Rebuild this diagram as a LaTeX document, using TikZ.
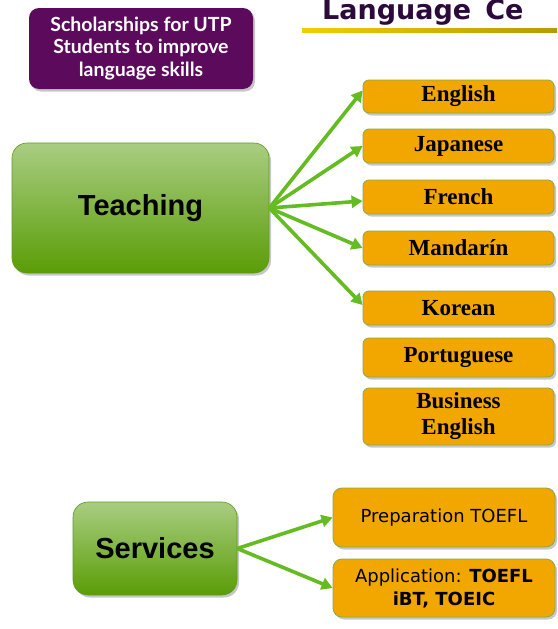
\documentclass[tikz,border=0pt]{standalone}
\usepackage{fontspec}
\setmainfont{Liberation Serif}
\setsansfont{Liberation Sans}
\newfontfamily\titlefont{DejaVu Sans}
\newfontfamily\notefont{Lato}
\newfontfamily\svcfont{DejaVu Sans}
\usetikzlibrary{arrows, arrows.meta}
\usetikzlibrary{shadows}

\definecolor{utppurple}{HTML}{5C0A5C}
\definecolor{titlepurple}{HTML}{2C0A3C}
\definecolor{titlegold}{HTML}{EED000}
\definecolor{titlebrown}{HTML}{9C7006}
\definecolor{langorange}{HTML}{F2A700}
\definecolor{langedge}{HTML}{86AC3E}
\definecolor{topictop}{HTML}{A9CD82}
\definecolor{topicbot}{HTML}{5A9D06}
\definecolor{topicedge}{HTML}{5E9A1C}
\definecolor{branchgreen}{HTML}{64BC22}

\tikzset{
  softshadow/.style={drop shadow={shadow xshift=2pt, shadow yshift=-2.5pt, opacity=0.22, fill=black}},
  notebox/.style={fill=utppurple, rounded corners=10pt, text=white, align=center,
    minimum width=224pt, minimum height=81pt, inner sep=0pt,
    font=\notefont\bfseries\fontsize{19.5}{22.5}\selectfont, softshadow},
  topic/.style={draw=topicedge, line width=0.6pt, rounded corners=15pt,
    top color=topictop, bottom color=topicbot, inner sep=0pt,
    font=\sffamily\bfseries\fontsize{29}{33}\selectfont, softshadow},
  langbox/.style={draw=langedge, line width=0.8pt, fill=langorange, rounded corners=6pt,
    minimum width=191pt, inner sep=0pt, align=center,
    font=\bfseries\fontsize{23}{26}\selectfont, softshadow},
  svcbox/.style={draw=langedge, line width=0.8pt, fill=langorange, rounded corners=9pt,
    minimum width=222pt, inner sep=0pt, align=center,
    font=\svcfont\fontsize{18}{23}\selectfont, softshadow},
  branch/.style={draw=branchgreen, line width=3.6pt, -{Triangle[length=11pt, width=12pt]}}
}

\begin{document}
\begin{tikzpicture}[x=1pt, y=-1pt]
  \useasboundingbox[fill=white] (0,0) rectangle (557,629);

  \node[notebox] (grant) at (141,48.5) {Scholarships for UTP\\Students to improve\\language skills};
  \node[anchor=base west, inner sep=0pt, text=titlepurple,
    font=\titlefont\bfseries\fontsize{27}{30}\selectfont] (title) at (322,19.5) {Language\hspace{14pt}Ce};
  \shade[left color=titlegold, middle color=titlebrown, right color=titlegold!75!black]
    (302,28) rectangle (557,32);

  \node[topic, minimum width=257pt, minimum height=130pt] (teaching) at (140.5,208) {Teaching};

  \node[langbox, minimum height=33pt] (english) at (458.5,96.5) {English};
  \node[langbox, minimum height=34pt] (japanese) at (458.5,146) {Japanese};
  \node[langbox, minimum height=34pt] (french) at (458.5,197) {French};
  \node[langbox, minimum height=34pt] (mandarin) at (458.5,248) {Mandarín};
  \node[langbox, minimum height=34pt] (korean) at (458.5,308) {Korean};
  \node[langbox, minimum height=39pt] (portuguese) at (458.5,357.5) {Portuguese};
  \node[langbox, minimum height=57pt] (business) at (458.5,416.5) {Business\\English};

  \draw[branch] (teaching.east) -- ([yshift=6pt]english.west);
  \draw[branch] (teaching.east) -- (japanese.west);
  \draw[branch] (teaching.east) -- ([yshift=-4pt]french.west);
  \draw[branch] (teaching.east) -- (mandarin.west);
  \draw[branch] (teaching.east) -- ([yshift=3pt]korean.west);

  \node[topic, minimum width=164pt, minimum height=93pt] (services) at (155,548.5) {Services};
  \node[svcbox, minimum height=59pt] (prep) at (444,517.5) {Preparation TOEFL};
  \node[svcbox, minimum height=58pt] (appl) at (444,588) {Application: \textbf{TOEFL}\\\textbf{iBT, TOEIC}};

  \draw[branch] (services.east) -- (prep.west);
  \draw[branch] (services.east) -- (appl.west);
\end{tikzpicture}
\end{document}
